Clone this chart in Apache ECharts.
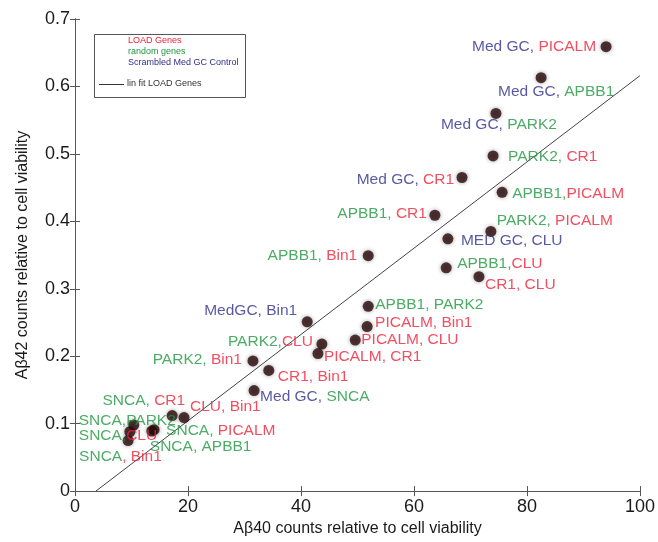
<!DOCTYPE html>
<html>
<head>
<meta charset="utf-8">
<script src="https://cdn.jsdelivr.net/npm/echarts@6/dist/echarts.min.js"></script>
<style>
  html, body { margin: 0; padding: 0; background: #fff; }
  #chart { width: 658px; height: 542px; }
</style>
</head>
<body>
<div id="chart"></div>
<script>
// Ab40 (x) and Ab42 (y) values, one per gene pair
var pairX = [94.0, 82.5, 74.5, 74.0, 68.5, 75.6, 63.7, 73.6, 66.0, 51.9,
             65.7, 71.5, 51.9, 51.7, 41.1, 49.6, 43.7, 43.0, 31.5, 34.3,
             31.7, 19.3, 17.2, 10.4, 9.7, 14.0, 13.6, 9.4];
var pairY = [0.659, 0.613, 0.560, 0.497, 0.465, 0.443, 0.409, 0.385, 0.374, 0.349,
             0.331, 0.318, 0.274, 0.244, 0.251, 0.224, 0.218, 0.204, 0.193, 0.179,
             0.149, 0.109, 0.112, 0.098, 0.088, 0.091, 0.089, 0.075];
// label text split in two parts, and the gene group of each part
var partA = ['Med GC,', 'Med GC,', 'Med GC,', 'PARK2,', 'Med GC,', 'APBB1,', 'APBB1,', 'PARK2,', 'MED GC,', 'APBB1,',
             'APBB1,', 'CR1,', 'APBB1,', 'PICALM,', 'MedGC,', 'PICALM,', 'PARK2,', 'PICALM,', 'PARK2,', 'CR1,',
             'Med GC,', 'CLU,', 'SNCA,', 'SNCA,', 'SNCA,', 'SNCA,', 'SNCA,', 'SNCA'];
var partB = [' PICALM', ' APBB1', ' PARK2', ' CR1', ' CR1', 'PICALM', ' CR1', ' PICALM', ' CLU', ' Bin1',
             'CLU', ' CLU', ' PARK2', ' Bin1', ' Bin1', ' CLU', 'CLU', ' CR1', ' Bin1', ' Bin1',
             ' SNCA', ' Bin1', ' CR1', 'PARK2', 'CLU', ' PICALM', ' APBB1', ', Bin1'];
var groupA = ['c', 'c', 'c', 'r', 'c', 'r', 'r', 'r', 'c', 'r',
              'r', 'l', 'r', 'l', 'c', 'l', 'r', 'l', 'r', 'l',
              'c', 'l', 'r', 'r', 'r', 'r', 'r', 'r'];
var groupB = ['l', 'r', 'r', 'l', 'l', 'l', 'l', 'l', 'c', 'l',
              'l', 'l', 'r', 'l', 'c', 'l', 'l', 'l', 'l', 'l',
              'r', 'l', 'l', 'r', 'l', 'l', 'r', 'l'];
// linear fit of LOAD genes
var fitX = [3.7, 100];
var fitY = [0, 0.616];

// label placement (dx, dy from dot centre, text align)
var labelPlace = [
  [-10, 0, 'right'], [15, 14, 'center'], [3, 11, 'center'], [15, 1, 'left'], [-8, 2, 'right'],
  [10, 1, 'left'], [-8, -2, 'right'], [6, -11, 'left'], [13, 2, 'left'], [-11, 0, 'right'],
  [11, -4, 'left'], [6, 8, 'left'], [7, -2, 'left'], [8, -4, 'left'], [-10, -11, 'right'],
  [6, 0, 'left'], [-9, -2, 'right'], [6, 3, 'left'], [-11, -1, 'right'], [9, 6, 'left'],
  [6, 6, 'left'], [6, -11, 'left'], [13, -15, 'right'], [-55, -4, 'left'], [-51, 4, 'left'],
  [12, 1, 'left'], [-2, 16, 'left'], [-49, 16, 'left']
];

var RED = '#ef2038', GREEN = '#1f963f', BLUE = '#2f2f8c';
var FONT = '"Liberation Sans", Arial, Helvetica, sans-serif';

var points = pairX.map(function (x, i) {
  var p = labelPlace[i];
  return {
    value: [x, pairY[i]],
    label: {
      position: 'inside',
      offset: [p[0], p[1]],
      align: p[2],
      verticalAlign: 'middle',
      formatter: '{' + groupA[i] + '|' + partA[i] + '}{' + groupB[i] + '|' + partB[i] + '}'
    }
  };
});

var fitLine = fitX.map(function (x, i) { return [x, fitY[i]]; });

var axisCommon = {
  type: 'value',
  axisLine: { show: true, lineStyle: { color: '#555', width: 1 } },
  axisTick: { show: true, inside: true, length: 5, lineStyle: { color: '#555' } },
  splitLine: { show: false }
};

var myChart = echarts.init(document.getElementById('chart'));
myChart.setOption({
  animation: false,
  backgroundColor: '#fff',
  grid: { left: 75, right: 18, top: 19, bottom: 50 },
  xAxis: [
    Object.assign({}, axisCommon, {
      min: 0, max: 100, interval: 20,
      name: 'A\u03b240 counts relative to cell viability',
      nameLocation: 'middle', nameGap: 26,
      nameTextStyle: { fontSize: 16, color: '#1a1a1a', fontFamily: FONT },
      axisLabel: { fontSize: 18, color: '#1a1a1a', fontFamily: FONT, margin: 7 }
    }),
    Object.assign({}, axisCommon, {
      min: 0, max: 100, interval: 20, position: 'top',
      axisLabel: { show: false }
    })
  ],
  yAxis: [
    Object.assign({}, axisCommon, {
      min: 0, max: 0.7, interval: 0.1,
      name: 'A\u03b242 counts relative to cell viability',
      nameLocation: 'middle', nameGap: 44,
      nameTextStyle: { fontSize: 16, color: '#1a1a1a', fontFamily: FONT },
      axisLabel: { fontSize: 18, color: '#1a1a1a', fontFamily: FONT, margin: 5 }
    }),
    Object.assign({}, axisCommon, {
      min: 0, max: 0.7, interval: 0.1, position: 'right',
      axisLabel: { show: false }
    })
  ],
  series: [
    {
      name: 'lin fit LOAD Genes',
      type: 'line',
      data: fitLine,
      symbol: 'none',
      lineStyle: { color: '#444', width: 1 },
      z: 1
    },
    {
      type: 'scatter',
      data: points,
      symbolSize: 11,
      itemStyle: {
        color: '#2a0a0a',
        shadowBlur: 4,
        shadowColor: 'rgba(0,0,0,0.45)'
      },
      label: {
        show: true,
        fontSize: 15.5,
        fontFamily: FONT,
        rich: {
          l: { color: RED, fontSize: 15.5, fontFamily: FONT },
          r: { color: GREEN, fontSize: 15.5, fontFamily: FONT },
          c: { color: BLUE, fontSize: 15.5, fontFamily: FONT }
        }
      },
      z: 3
    }
  ],
  graphic: [
    {
      type: 'rect',
      shape: { x: 94.5, y: 34.5, width: 151, height: 63 },
      style: { fill: '#fff', stroke: '#555', lineWidth: 1 },
      z: 10
    },
    { type: 'text', x: 128, y: 41, style: { text: 'LOAD Genes', fill: RED, font: '9px ' + FONT, textVerticalAlign: 'middle' }, z: 11 },
    { type: 'text', x: 128, y: 52, style: { text: 'random genes', fill: GREEN, font: '9px ' + FONT, textVerticalAlign: 'middle' }, z: 11 },
    { type: 'text', x: 128, y: 63, style: { text: 'Scrambled Med GC Control', fill: BLUE, font: '9px ' + FONT, textVerticalAlign: 'middle' }, z: 11 },
    {
      type: 'line',
      shape: { x1: 99, y1: 84.5, x2: 124, y2: 84.5 },
      style: { stroke: '#333', lineWidth: 1 },
      z: 11
    },
    { type: 'text', x: 127, y: 84, style: { text: 'lin fit LOAD Genes', fill: '#333', font: '9px ' + FONT, textVerticalAlign: 'middle' }, z: 11 }
  ]
});
</script>
</body>
</html>
